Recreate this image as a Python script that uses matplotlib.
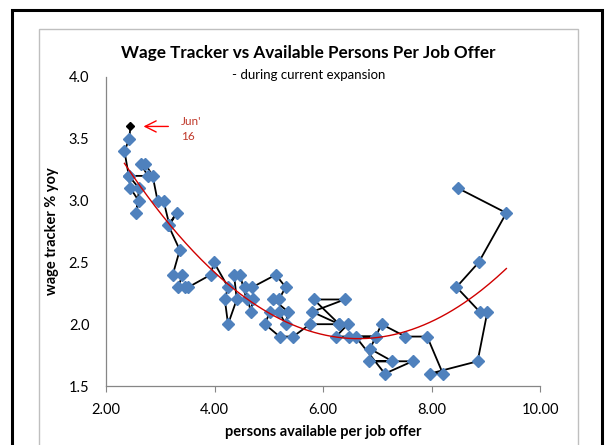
import matplotlib
matplotlib.use("Agg")
import matplotlib.pyplot as plt
import numpy as np
from matplotlib.patches import Rectangle
from matplotlib.ticker import FormatStrFormatter

# monthly points, Jun 2009 -> Jun 2016
persons_per_offer = [
    8.49, 9.38, 8.87, 8.46, 8.89, 9.03, 8.85, 7.97, 8.21, 7.92,
    7.52, 7.08, 6.97, 6.87, 7.28, 6.85, 7.65, 7.14, 6.60, 6.97,
    6.48, 6.24, 6.46, 6.30, 5.83, 6.40, 5.80, 6.30, 5.76, 5.45,
    5.20, 4.93, 5.02, 5.19, 5.31, 5.36, 5.08, 5.19, 5.31, 5.13,
    4.70, 4.56, 4.67, 4.71, 4.59, 4.47, 4.36, 4.41, 4.25, 4.19,
    4.25, 3.99, 3.93, 3.52, 3.45, 3.33, 3.41, 3.23, 3.36, 3.15,
    3.30, 3.17, 3.06, 2.95, 2.86, 2.72, 2.64, 2.77, 2.42, 2.45,
    2.60, 2.56, 2.61, 2.42, 2.34, 2.43, 2.45,
]
wage_tracker = [
    3.1, 2.9, 2.5, 2.3, 2.1, 2.1, 1.7, 1.6, 1.6, 1.9,
    1.9, 2.0, 1.9, 1.8, 1.7, 1.7, 1.7, 1.6, 1.9, 1.9,
    1.9, 1.9, 2.0, 2.0, 2.2, 2.2, 2.1, 2.0, 2.0, 1.9,
    1.9, 2.0, 2.1, 2.1, 2.0, 2.1, 2.2, 2.2, 2.3, 2.4,
    2.3, 2.3, 2.1, 2.2, 2.2, 2.4, 2.4, 2.2, 2.0, 2.2,
    2.3, 2.5, 2.4, 2.3, 2.3, 2.3, 2.4, 2.4, 2.6, 2.8,
    2.9, 2.8, 3.0, 3.0, 3.2, 3.3, 3.3, 3.2, 3.2, 3.1,
    3.0, 2.9, 3.1, 3.2, 3.4, 3.5, 3.6,
]
latest_label = "Jun'\n16"
x_ticks = [2, 4, 6, 8, 10]
y_ticks = [1.5, 2.0, 2.5, 3.0, 3.5, 4.0]

plt.rcParams["font.family"] = ["Lato", "DejaVu Sans"]

W, H = 610, 445
fig = plt.figure(figsize=(W / 100, H / 100), dpi=100)

# chart frames (bottom edge runs off the picture)
fig.patches.append(Rectangle((12 / W, -0.1), 590 / W, 1.1 - 10 / H, transform=fig.transFigure,
                             fill=False, edgecolor="black", lw=2.2))
fig.patches.append(Rectangle((39 / W, -0.1), 539 / W, 1.1 - 29 / H, transform=fig.transFigure,
                             fill=False, edgecolor="#BFBFBF", lw=1.0))

ax = fig.add_axes([106 / W, 1 - 386 / H, 434 / W, 309 / H])
ax.set_xlim(2, 10)
ax.set_ylim(1.5, 4.0)

x = np.array(persons_per_offer)
y = np.array(wage_tracker)

ax.plot(x, y, color="black", lw=1.3, marker="D", ms=5.8, markevery=slice(0, len(x) - 1),
        mfc="#4F81BD", mec="#4F81BD", zorder=2)
ax.plot(x[-1], y[-1], marker="D", ms=4.5, color="black", zorder=3)

coef = np.polyfit(x, y, 2)
xs = np.linspace(x.min(), x.max(), 200)
ax.plot(xs, np.polyval(coef, xs), color="#D00000", lw=1.0, zorder=4)

ax.annotate("", xy=(x[-1] + 0.19, y[-1]), xytext=(x[-1] + 0.75, y[-1]),
            arrowprops=dict(arrowstyle="->", color="red", lw=1.0, mutation_scale=20))
ax.text(x[-1] + 0.93, y[-1] - 0.02, latest_label, color="#C0392B", fontsize=8.5,
        ha="left", va="center", linespacing=1.5)

ax.set_xticks(x_ticks)
ax.set_yticks(y_ticks)
ax.xaxis.set_major_formatter(FormatStrFormatter("%.2f"))
ax.yaxis.set_major_formatter(FormatStrFormatter("%.1f"))
for side in ("top", "right"):
    ax.spines[side].set_visible(False)
for side in ("left", "bottom"):
    ax.spines[side].set_color("#868686")
    ax.spines[side].set_linewidth(0.9)
ax.tick_params(axis="x", direction="out", length=4, color="#868686", labelsize=10.5, pad=8)
ax.tick_params(axis="y", length=0, labelsize=10.5, pad=12)

ax.set_xlabel("persons available per job offer", fontsize=10.5, fontweight="bold", labelpad=6)
ax.set_ylabel("wage tracker % yoy", fontsize=10.5, fontweight="bold", labelpad=7)

fig.text(308 / W, 1 - 53 / H, "Wage Tracker vs Available Persons Per Job Offer",
         ha="center", va="center", fontsize=12.3, fontweight="bold")
fig.text(309 / W, 1 - 75 / H, "- during current expansion",
         ha="center", va="center", fontsize=9.5)

fig.savefig("out.png", dpi=100)
